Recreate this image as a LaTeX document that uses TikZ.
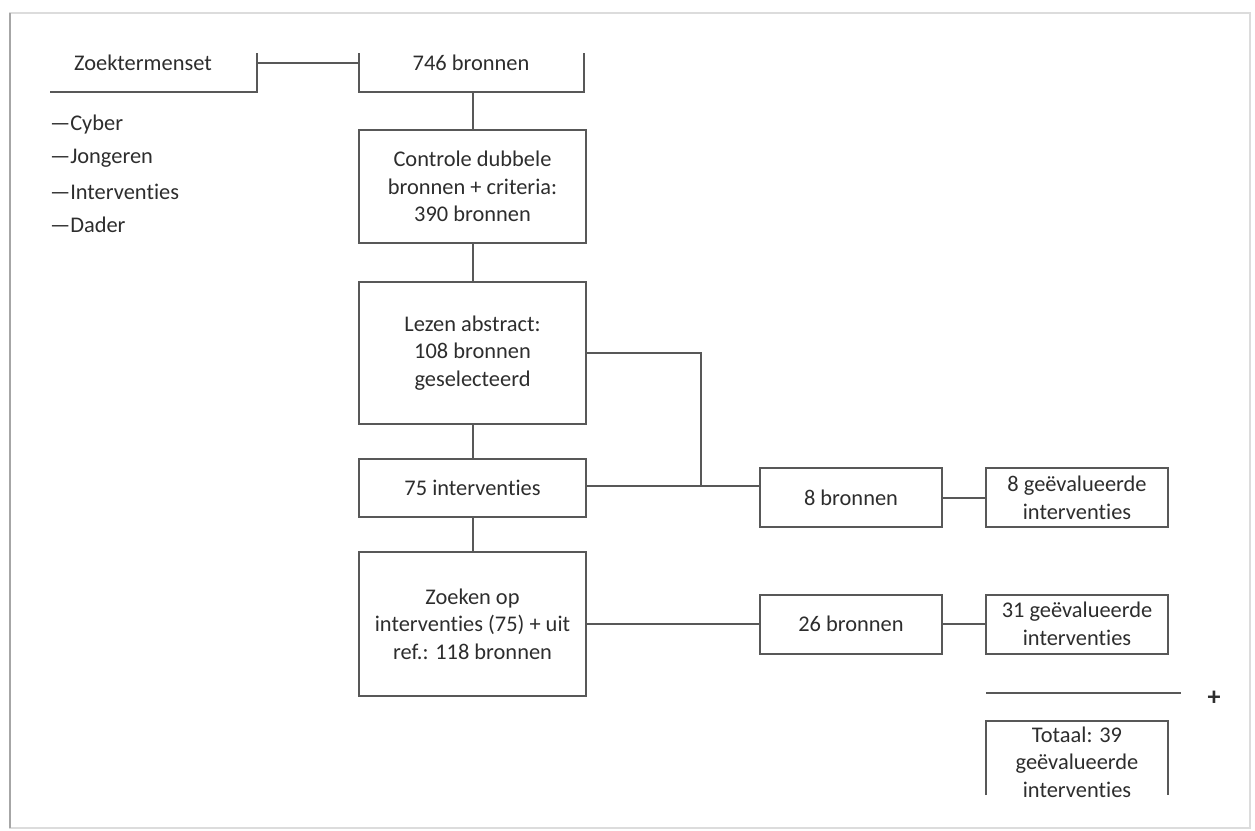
\documentclass[tikz,border=0pt]{standalone}
\usepackage{fontspec}
\setmainfont{Carlito}[Ligatures=NoCommon]
\definecolor{lijngrijs}{RGB}{88,88,88}
\definecolor{tekstgrijs}{RGB}{45,45,45}
\definecolor{kadergrijs}{RGB}{220,220,220}

\tikzset{every node/.style={text=tekstgrijs, font=\fontsize{11.2}{13.8}\selectfont, inner sep=0pt}}

\begin{document}
\begin{tikzpicture}[x=0.5pt, y=-0.5pt, line width=1pt, lijngrijs,
	stap/.style={draw=lijngrijs, line width=1pt, align=center, minimum width=113.5pt},
	zijblok/.style={draw=lijngrijs, line width=1pt, align=center, minimum width=91pt, minimum height=29.5pt}]
			\useasboundingbox (0,0) rectangle (1255,831);
			
			% Frame of the page
			\draw[kadergrijs, line width=0.6pt] (10,13) rectangle (1250,828);
			\draw[gray!70, line width=1.3pt] (10,13) -- (10,828);
			
			% Search terms
			\node (zoek) at (143,63) {Zoektermenset};
			\coordinate (zoekL) at (50,92);
			\coordinate (zoekR) at (257,92);
			\coordinate (zoekT) at (257,53);
			\coordinate (zoekM) at (257,63);
			\draw (zoekL) -- (zoekR) -- (zoekT);
			
			\node[anchor=west] (cyber) at (49,125) {—Cyber};
			\node[anchor=west] (jong) at (49,158) {—Jongeren};
			\node[anchor=west] (inter) at (49,192) {—Interventies};
			\node[anchor=west] (dader) at (49,225) {—Dader};
			
			% First result
			\node (bron) at (471,63) {746 bronnen};
			\coordinate (bronTL) at (359,53);
			\coordinate (bronBL) at (359,92);
			\coordinate (bronBR) at (584,92);
			\coordinate (bronTR) at (584,53);
			\coordinate (bronM) at (359,63);
			\coordinate (bronB) at (472.5,92);
			\draw (bronTL) -- (bronBL) -- (bronBR) -- (bronTR);
			\draw (zoekM) -- (bronM);
			
			% Main column
			\node[stap, minimum height=56.5pt] (controle) at (472.5,186.5) {Controle dubbele\\bronnen + criteria:\\390 bronnen};
			\node[stap, minimum height=71pt] (lezen) at (472.5,353) {Lezen abstract:\\108 bronnen\\geselecteerd};
			\node[stap, minimum height=29pt] (interv) at (472.5,487.5) {75 interventies};
			\node[stap, minimum height=72pt] (zoeken) at (472.5,624) {Zoeken op\\interventies (75) + uit\\ref.: 118 bronnen};
			
			\draw (bronB) -- (bronB |- controle.north);
			\draw (controle) -- (lezen);
			\draw (lezen) -- (interv);
			\draw (interv) -- (zoeken);
			
			% Side branches
			\node[zijblok] (bron8) at (851,497.5) {8 bronnen};
			\node[zijblok] (eval8) at (1077,497.5) {8 geëvalueerde\\interventies};
			\node[zijblok] (bron26) at (851,624) {26 bronnen};
			\node[zijblok] (eval31) at (1077,624) {31 geëvalueerde\\interventies};
			
			\coordinate (knik) at (701,486);
			\draw (lezen.east) -| (knik);
			\draw (interv.east |- knik) -- (knik -| bron8.west);
			\draw (bron8) -- (eval8);
			\draw (zoeken) -- (bron26);
			\draw (bron26) -- (eval31);
			
			% Sum
			\coordinate (somL) at (986,693);
			\coordinate (somR) at (1181,693);
			\draw (somL) -- (somR);
			\node[font=\fontsize{13}{15}\selectfont\bfseries] (plus) at (1214,698) {+};
			
			\node[align=center] (totaal) at (1077,762) {Totaal: 39\\geëvalueerde\\interventies};
			\coordinate (totBL) at (986,795);
			\coordinate (totTL) at (986,721);
			\coordinate (totTR) at (1168,721);
			\coordinate (totBR) at (1168,795);
			\draw (totBL) -- (totTL) -- (totTR) -- (totBR);
			
		\end{tikzpicture}
\end{document}
